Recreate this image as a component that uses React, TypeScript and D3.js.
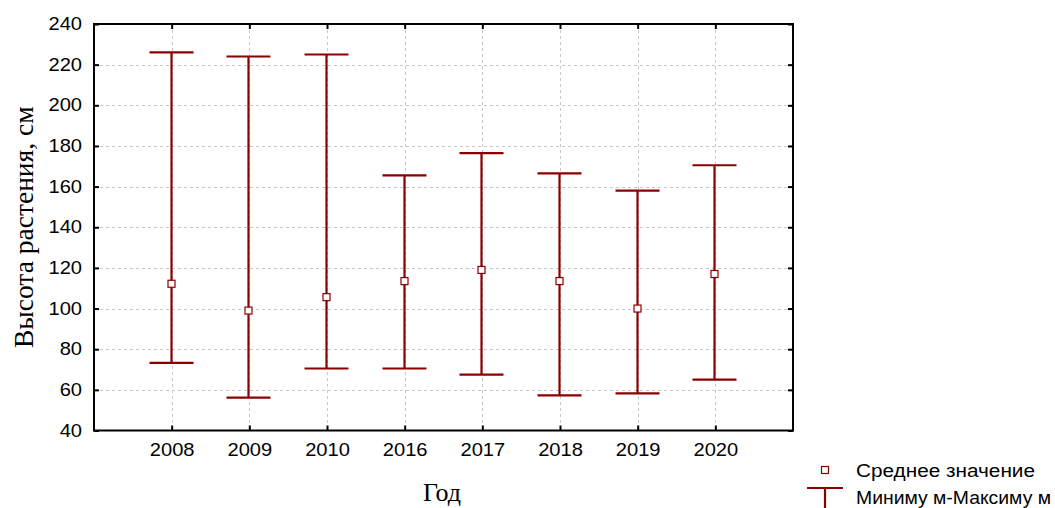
import React, { useEffect, useRef } from 'react';
import * as d3 from 'd3';

const years = ['2008', '2009', '2010', '2016', '2017', '2018', '2019', '2020'];
const maxValues = [226, 224, 225, 165.5, 176.5, 166.5, 158, 170.5];
const minValues = [73.3, 56.2, 70.5, 70.5, 67.5, 57.3, 58.3, 65];
const meanValues = [112.2, 99, 105.6, 113.5, 119, 113.5, 100, 117];
const yTicks = [40, 60, 80, 100, 120, 140, 160, 180, 200, 220, 240];
const legendLabels = ['Среднее значение', 'Миниму м-Максиму м'];

const RED = '#8b0000';
const SX = 1.15; // horizontal stretch of the sans text in the reference

function App() {
    const svgRef = useRef<SVGSVGElement>(null);

    useEffect(() => {
        const W = 1055;
        const H = 508;
        const left = 94, right = 793, top = 24, bottom = 430.5;

        const svg = d3.select(svgRef.current)
            .attr('width', W)
            .attr('height', H);
        svg.selectAll('*').remove();

        const x = d3.scalePoint<string>()
            .domain(years)
            .range([left, right])
            .padding(1);

        const y = d3.scaleLinear()
            .domain([40, 240])
            .range([bottom, top]);

        // grid
        const grid = svg.append('g')
            .attr('stroke', '#c8c8c8')
            .attr('stroke-width', 1)
            .attr('stroke-dasharray', '3,3');
        grid.selectAll('.hg')
            .data(yTicks.slice(1, -1))
            .enter().append('line')
            .attr('x1', left).attr('x2', right)
            .attr('y1', d => Math.round(y(d)) + 0.5)
            .attr('y2', d => Math.round(y(d)) + 0.5);
        grid.selectAll('.vg')
            .data(years)
            .enter().append('line')
            .attr('x1', d => Math.round(x(d)!) + 0.5)
            .attr('x2', d => Math.round(x(d)!) + 0.5)
            .attr('y1', top).attr('y2', bottom);

        // axes, ticks pointing inwards
        const yAxis = svg.append('g')
            .attr('transform', `translate(${left},0)`)
            .call(d3.axisLeft(y).tickValues(yTicks).tickSizeInner(-5).tickSizeOuter(0).tickPadding(12));
        yAxis.select('.domain').remove();
        yAxis.selectAll('line').attr('stroke', '#000').attr('stroke-width', 2);
        yAxis.selectAll('text')
            .attr('font-family', '"Liberation Sans", Arial, sans-serif')
            .attr('font-size', 17.5)
            .attr('fill', '#000')
            .attr('x', -12 / SX)
            .attr('transform', `scale(${SX},1)`);

        const yAxisR = svg.append('g')
            .attr('transform', `translate(${right},0)`)
            .call(d3.axisRight(y).tickValues(yTicks).tickSizeInner(-5).tickSizeOuter(0).tickFormat(() => ''));
        yAxisR.select('.domain').remove();
        yAxisR.selectAll('line').attr('stroke', '#000').attr('stroke-width', 2);

        const xAxis = svg.append('g')
            .attr('transform', `translate(0,${bottom})`)
            .call(d3.axisBottom(x).tickSizeInner(-5).tickSizeOuter(0).tickPadding(13));
        xAxis.select('.domain').remove();
        xAxis.selectAll('line').attr('stroke', '#000').attr('stroke-width', 2);
        xAxis.selectAll('text')
            .attr('font-family', '"Liberation Sans", Arial, sans-serif')
            .attr('font-size', 17.5)
            .attr('fill', '#000')
            .attr('transform', `scale(${SX},1)`);

        const xAxisT = svg.append('g')
            .attr('transform', `translate(0,${top})`)
            .call(d3.axisTop(x).tickSizeInner(-5).tickSizeOuter(0).tickFormat(() => ''));
        xAxisT.select('.domain').remove();
        xAxisT.selectAll('line').attr('stroke', '#000').attr('stroke-width', 2);

        // frame
        svg.append('rect')
            .attr('x', left).attr('y', top)
            .attr('width', right - left).attr('height', bottom - top)
            .attr('fill', 'none')
            .attr('stroke', '#000')
            .attr('stroke-width', 2);

        // min-max whiskers
        const capHalf = 22;
        const wk = svg.append('g').attr('stroke', RED).attr('stroke-width', 2.2);
        years.forEach((yr, i) => {
            const cx = Math.round(x(yr)!) - 0.5;
            wk.append('line')
                .attr('x1', cx).attr('x2', cx)
                .attr('y1', y(maxValues[i])).attr('y2', y(minValues[i]));
            wk.append('line')
                .attr('x1', cx - capHalf).attr('x2', cx + capHalf)
                .attr('y1', y(maxValues[i])).attr('y2', y(maxValues[i]));
            wk.append('line')
                .attr('x1', cx - capHalf).attr('x2', cx + capHalf)
                .attr('y1', y(minValues[i])).attr('y2', y(minValues[i]));
        });

        // means
        svg.selectAll('.mean')
            .data(meanValues)
            .enter().append('rect')
            .attr('x', (d, i) => Math.round(x(years[i])!) - 0.5 - 3.5)
            .attr('y', d => y(d) - 3.5)
            .attr('width', 7).attr('height', 7)
            .attr('fill', '#fff')
            .attr('stroke', RED)
            .attr('stroke-width', 1.2);

        // axis titles
        svg.append('text')
            .attr('transform', `translate(33,${(top + bottom) / 2}) rotate(-90)`)
            .attr('text-anchor', 'middle')
            .attr('font-family', '"Liberation Serif", "Times New Roman", serif')
            .attr('font-size', 27.5)
            .text('Высота растения, см');

        svg.append('text')
            .attr('x', 442).attr('y', 501)
            .attr('text-anchor', 'middle')
            .attr('font-family', '"Liberation Serif", "Times New Roman", serif')
            .attr('font-size', 26)
            .text('Год');

        // legend
        const lg = svg.append('g');
        lg.append('rect')
            .attr('x', 821.5).attr('y', 466.5)
            .attr('width', 7).attr('height', 7)
            .attr('fill', '#fff').attr('stroke', RED).attr('stroke-width', 1.2);
        lg.append('line')
            .attr('x1', 807).attr('x2', 843).attr('y1', 488).attr('y2', 488)
            .attr('stroke', RED).attr('stroke-width', 2.2);
        lg.append('line')
            .attr('x1', 825).attr('x2', 825).attr('y1', 488).attr('y2', 508)
            .attr('stroke', RED).attr('stroke-width', 2.2);
        const legendWidths = [179, 195];
        lg.selectAll('.lt')
            .data(legendLabels)
            .enter().append('text')
            .attr('x', 856)
            .attr('y', (d, i) => 476.5 + i * 27)
            .attr('font-family', '"Liberation Sans", Arial, sans-serif')
            .attr('font-size', 17.5)
            .attr('textLength', (d, i) => legendWidths[i])
            .attr('lengthAdjust', 'spacingAndGlyphs')
            .text(d => d);
    }, []);

    return (
        <div style={{ position: 'absolute', left: 0, top: 0, width: 1055, height: 508, background: '#fff' }}>
            <svg ref={svgRef}></svg>
        </div>
    );
}

export default App;
